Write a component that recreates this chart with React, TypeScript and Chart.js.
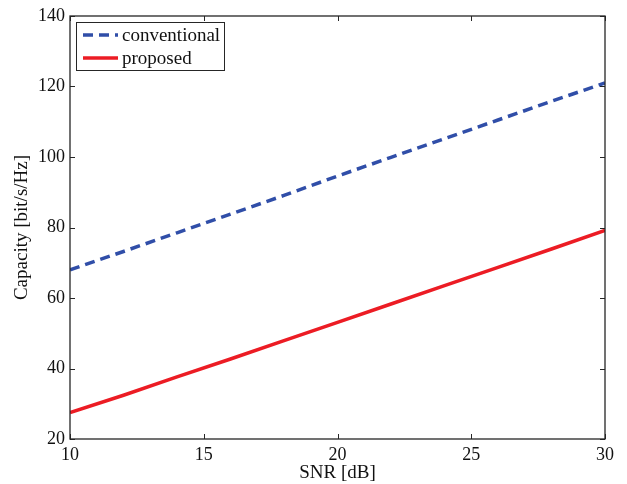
import { useEffect, useRef } from "react";
import { Chart, registerables } from "chart.js";

Chart.register(...registerables);

const snrDb = [10, 12, 14, 16, 18, 20, 22, 24, 26, 28, 30];
const conventional = [68, 73.2, 78.5, 83.8, 89.1, 94.6, 99.9, 105.2, 110.5, 115.8, 121];
const proposed = [27.5, 32.4, 37.6, 42.7, 47.9, 53.1, 58.3, 63.5, 68.7, 73.9, 79.2];
const seriesNames = ["conventional", "proposed"];
const xTicks = [10, 15, 20, 25, 30];
const yTicks = [20, 40, 60, 80, 100, 120, 140];
const xTitle = "SNR [dB]";
const yTitle = "Capacity [bit/s/Hz]";

const FONT = "'Liberation Serif', 'Times New Roman', serif";
const AXIS_COLOR = "#262626";

const framePlugin = {
  id: "frame",
  afterDatasetsDraw(chart: any) {
    const { ctx, chartArea } = chart;
    const { left, right, top, bottom } = chartArea;
    const xs = chart.scales.x;
    const ys = chart.scales.y;
    const tl = 5;
    ctx.save();
    ctx.strokeStyle = AXIS_COLOR;
    ctx.lineWidth = 1;
    ctx.beginPath();
    for (const v of xTicks) {
      const px = Math.round(xs.getPixelForValue(v)) + 0.5;
      ctx.moveTo(px, bottom);
      ctx.lineTo(px, bottom - tl);
      ctx.moveTo(px, top);
      ctx.lineTo(px, top + tl);
    }
    for (const v of yTicks) {
      const py = Math.round(ys.getPixelForValue(v)) + 0.5;
      ctx.moveTo(left, py);
      ctx.lineTo(left + tl, py);
      ctx.moveTo(right, py);
      ctx.lineTo(right - tl, py);
    }
    ctx.stroke();
    ctx.lineWidth = 1.3;
    ctx.strokeRect(left, top, right - left, bottom - top);

    // legend
    const bx = left + 6;
    const by = top + 6;
    const bw = 148;
    const bh = 48;
    ctx.fillStyle = "#ffffff";
    ctx.fillRect(bx, by, bw, bh);
    ctx.lineWidth = 1;
    ctx.strokeStyle = AXIS_COLOR;
    ctx.strokeRect(bx + 0.5, by + 0.5, bw, bh);
    chart.data.datasets.forEach((ds: any, i: number) => {
      const ly = by + 13 + i * 23;
      ctx.save();
      ctx.strokeStyle = ds.borderColor;
      ctx.lineWidth = ds.borderWidth;
      ctx.setLineDash(ds.borderDash || []);
      ctx.beginPath();
      ctx.moveTo(bx + 7, ly);
      ctx.lineTo(bx + 42, ly);
      ctx.stroke();
      ctx.restore();
      ctx.fillStyle = "#111";
      ctx.font = `19px ${FONT}`;
      ctx.textBaseline = "middle";
      ctx.textAlign = "left";
      ctx.fillText(ds.label, bx + 46, ly + 1);
    });
    ctx.restore();
  },
};

export default function App() {
  const ref = useRef<HTMLCanvasElement>(null);
  useEffect(() => {
    if (!ref.current) return;
    const chart = new Chart(ref.current, {
      type: "line",
      data: {
        datasets: [
          {
            label: seriesNames[0],
            data: snrDb.map((x, i) => ({ x, y: conventional[i] })),
            borderColor: "rgb(48, 78, 168)",
            borderWidth: 3.5,
            borderDash: [10, 6],
            pointRadius: 0,
            tension: 0,
          },
          {
            label: seriesNames[1],
            data: snrDb.map((x, i) => ({ x, y: proposed[i] })),
            borderColor: "rgb(236, 28, 36)",
            borderWidth: 3.5,
            pointRadius: 0,
            tension: 0,
          },
        ],
      },
      options: {
        animation: false,
        responsive: false,
        maintainAspectRatio: false,
        layout: { padding: { top: 16, right: 22, left: 0, bottom: 0 } },
        plugins: { legend: { display: false }, tooltip: { enabled: false } },
        scales: {
          x: {
            type: "linear",
            min: 10,
            max: 30,
            afterFit: (s: any) => {
              s.height = 45;
            },
            afterBuildTicks: (s: any) => {
              s.ticks = xTicks.map((v) => ({ value: v }));
            },
            grid: { display: false, drawTicks: false },
            border: { display: false },
            ticks: { padding: 5, color: "#111", font: { family: FONT, size: 18 }, maxRotation: 0 },
            title: {
              display: true,
              text: xTitle,
              color: "#111",
              font: { family: FONT, size: 19 },
              padding: { top: 0, bottom: 0 },
            },
          },
          y: {
            type: "linear",
            min: 20,
            max: 140,
            afterFit: (s: any) => {
              s.width = 70;
            },
            afterBuildTicks: (s: any) => {
              s.ticks = yTicks.map((v) => ({ value: v }));
            },
            grid: { display: false, drawTicks: false },
            border: { display: false },
            ticks: { padding: 5, color: "#111", font: { family: FONT, size: 18 } },
            title: {
              display: true,
              text: yTitle,
              color: "#111",
              font: { family: FONT, size: 19 },
              padding: { top: 11, bottom: 0 },
            },
          },
        },
      },
      plugins: [framePlugin],
    });
    return () => chart.destroy();
  }, []);
  return (
    <div style={{ position: "fixed", left: 0, top: 0, width: 627, height: 484, background: "#fff" }}>
      <canvas ref={ref} width={627} height={484} style={{ width: 627, height: 484 }} />
    </div>
  );
}
